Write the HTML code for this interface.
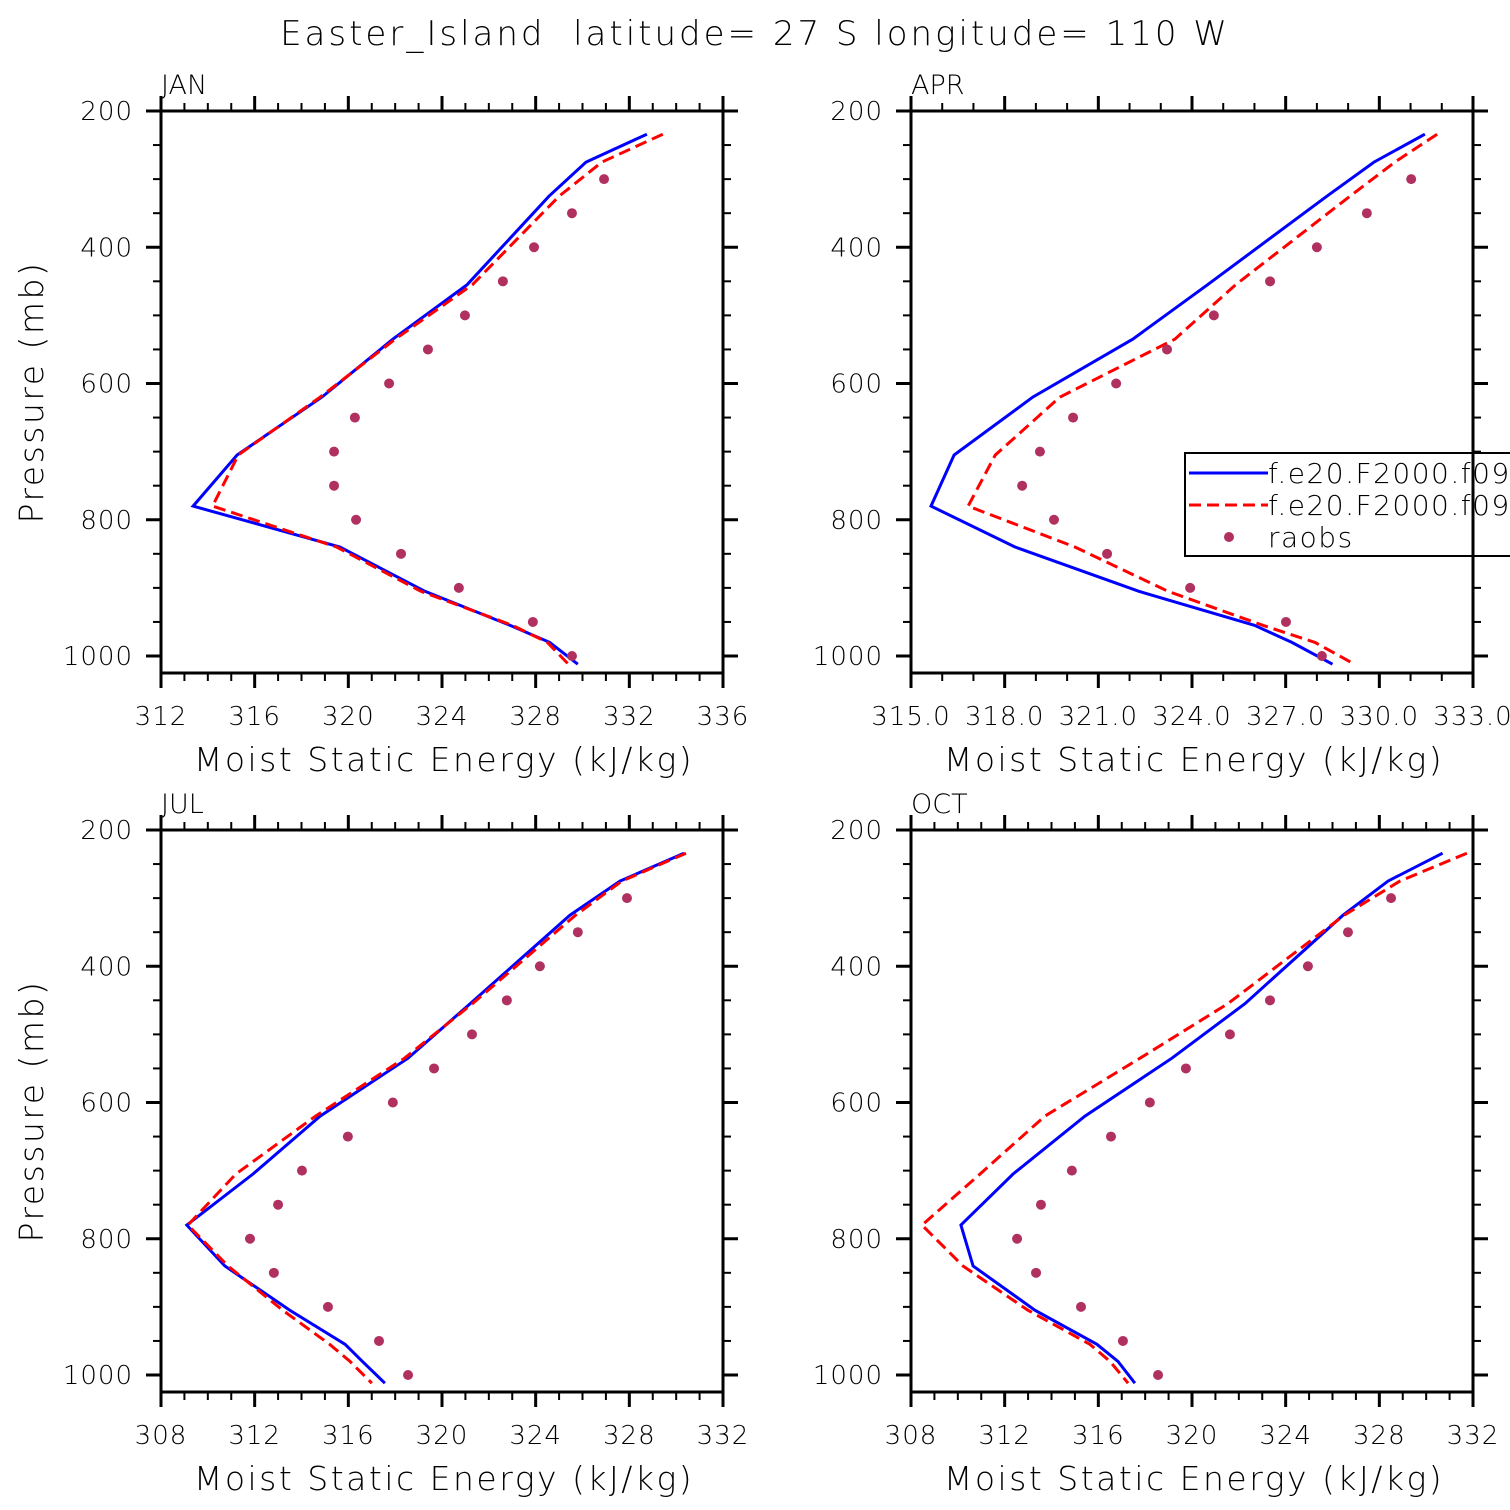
<!DOCTYPE html>
<html><head><meta charset="utf-8"><style>
html,body{margin:0;padding:0;background:#fff;}
svg{display:block;font-family:"DejaVu Sans","Liberation Sans",sans-serif;font-weight:300;}
</style></head><body>
<svg id="chart" width="1510" height="1510" viewBox="0 0 1510 1510">
<text x="755" y="45" font-size="34" text-anchor="middle" letter-spacing="3" xml:space="preserve" style="white-space:pre">Easter_Island  latitude= 27 S longitude= 110 W</text>
</svg>
<script>
const modelP = [234,275,325,455,535,620,705,780,840,905,955,980,1012];
const obsP = [300,350,400,450,500,550,600,650,700,750,800,850,900,950,1000];
const janBlue = [332.75,330.15,328.57,325.07,321.9,318.87,315.25,313.37,319.64,323.27,326.9,328.6,329.8];
const janRed = [333.43,330.83,329.0,325.3,322.0,318.8,315.3,314.2,319.5,323.1,327.0,328.5,329.4];
const janObs = [330.92,329.55,327.93,326.6,324.98,323.4,321.74,320.28,319.39,319.39,320.33,322.25,324.72,327.88,329.55];
const aprBlue = [331.46,329.83,328.32,324.5,322.1,318.9,316.38,315.64,318.33,322.3,326.0,327.2,328.5];
const aprRed = [331.85,330.5,329.06,325.4,323.45,319.77,317.7,316.83,320.25,323.23,326.27,327.94,329.2];
const aprObs = [331.02,329.6,328.0,326.5,324.7,323.2,321.57,320.19,319.13,318.56,319.58,321.28,323.94,327.01,328.16];
const julBlue = [330.33,327.6,325.46,321.2,318.55,314.8,311.93,309.1,310.73,313.5,315.86,316.6,317.56];
const julRed = [330.42,327.68,325.7,321.3,318.4,314.6,311.2,309.15,310.86,313.2,315.2,316.07,317.0];
const julObs = [327.9,325.8,324.18,322.77,321.28,319.66,317.9,315.98,314.02,313.0,311.8,312.82,315.13,317.31,318.55];
const octBlue = [330.7,328.37,326.45,322.26,319.14,315.43,312.36,310.13,310.65,313.3,315.94,316.84,317.56];
const octRed = [331.74,328.88,326.5,321.53,317.78,313.72,310.95,308.47,310.22,313.0,315.64,316.5,317.27];
const octObs = [328.5,326.66,324.95,323.33,321.62,319.74,318.2,316.54,314.87,313.55,312.53,313.34,315.26,317.05,318.55];
const yTicks = [200,400,600,800,1000];
const janX = [312,316,320,324,328,332,336];
const aprX = [315,318,321,324,327,330,333];
const julX = [308,312,316,320,324,328,332];
const octX = [308,312,316,320,324,328,332];

const NS='http://www.w3.org/2000/svg';
const svg=document.getElementById('chart');
function mk(tag,attrs,parent){const e=document.createElementNS(NS,tag);for(const k in attrs)e.setAttribute(k,attrs[k]);(parent||svg).appendChild(e);return e;}

function panel(key,title,x0,y0,xt,xmin,xmax,minorStep,dec,blue,red,obs,showY,legend){
  const W=562,H=562;
  const g=mk('g',{});
  
  
  const sx=v=>x0+(v-xmin)/(xmax-xmin)*W;
  const sy=p=>y0+(p-200)*0.68125;
  for(let v=xmin;v<=xmax+1e-6;v+=minorStep){
    const major=xt.some(t=>Math.abs(t-v)<1e-6);
    const L=major?15:8;
    const X=sx(v);
    mk('line',{x1:X,y1:y0,x2:X,y2:y0-L,stroke:'#000','stroke-width':major?3:2},g);
    mk('line',{x1:X,y1:y0+H,x2:X,y2:y0+H+L,stroke:'#000','stroke-width':major?3:2},g);
  }
  for(let p=200;p<=1000;p+=50){
    const major=p%200===0;const L=major?15:8;const Y=sy(p);
    mk('line',{x1:x0,y1:Y,x2:x0-L,y2:Y,stroke:'#000','stroke-width':major?3:2},g);
    mk('line',{x1:x0+W,y1:Y,x2:x0+W+L,y2:Y,stroke:'#000','stroke-width':major?3:2},g);
  }
  xt.forEach(t=>{const e=mk('text',{x:sx(t),y:y0+H+52,'font-size':26,'text-anchor':'middle','letter-spacing':'1'},g);e.textContent=t.toFixed(dec);
    
    });
  yTicks.forEach(t=>{const e=mk('text',{x:x0-28,y:sy(t)+9,'font-size':26,'text-anchor':'end','letter-spacing':'1'},g);e.textContent=t;
    
    });
  const tt=mk('text',{x:x0,y:y0-17,'font-size':27},g);tt.textContent=title;
  
  
  const xl=mk('text',{x:x0+W/2+2,y:y0+H+98,'font-size':33,'text-anchor':'middle','letter-spacing':'2.5'},g);xl.textContent='Moist Static Energy (kJ/kg)';
  
  
  if(showY){const yl=mk('text',{x:0,y:0,'font-size':33,'text-anchor':'middle','letter-spacing':'2.5',transform:`translate(${x0-118},${y0+H/2}) rotate(-90)`},g);yl.textContent='Pressure (mb)';
    
    }
  const clipId='clip-'+key;
  const cp=mk('clipPath',{id:clipId},g);mk('rect',{x:x0,y:y0,width:W,height:H},cp);
  const pts=arr=>arr.map((v,i)=>sx(v).toFixed(1)+','+sy(modelP[i]).toFixed(1)).join(' ');
  const bl=mk('polyline',{points:pts(blue),fill:'none',stroke:'#0000ff','stroke-width':3,'clip-path':`url(#${clipId})`},g);
  
  
  const rl=mk('polyline',{points:pts(red),fill:'none',stroke:'#ff0000','stroke-width':3,'stroke-dasharray':'12,6','clip-path':`url(#${clipId})`},g);
  
  
  obs.forEach((v,i)=>{const c=mk('circle',{cx:sx(v),cy:sy(obsP[i]),r:5,fill:'#b03060'},g);
    
    });
  mk('rect',{x:x0,y:y0,width:W,height:H,fill:'none',stroke:'#000','stroke-width':3},g);
  if(legend){
    const lg=mk('g',{},svg);
    
    
    mk('rect',{x:1185,y:453,width:340,height:103,fill:'#fff',stroke:'#000','stroke-width':2},lg);
    mk('line',{x1:1189,y1:473,x2:1268,y2:473,stroke:'#0000ff','stroke-width':3},lg);
    mk('line',{x1:1189,y1:505,x2:1268,y2:505,stroke:'#ff0000','stroke-width':3,'stroke-dasharray':'12,6'},lg);
    mk('circle',{cx:1229,cy:537,r:5,fill:'#b03060'},lg);
    [['f.e20.F2000.f09',483],['f.e20.F2000.f09',515],['raobs',547]].forEach(([t,y])=>{const e=mk('text',{x:1268,y:y,'font-size':28,'letter-spacing':'1.5'},lg);e.textContent=t;
      
      });
    mk('line',{x1:1473,y1:y0,x2:1473,y2:y0+H,stroke:'#000','stroke-width':3},lg);
  }
}
panel('jan','JAN',161,111,janX,312,336,1,0,janBlue,janRed,janObs,true,false);
panel('apr','APR',911,111,aprX,315,333,1,1,aprBlue,aprRed,aprObs,false,true);
panel('jul','JUL',161,830,julX,308,332,1,0,julBlue,julRed,julObs,true,false);
panel('oct','OCT',911,830,octX,308,332,1,0,octBlue,octRed,octObs,false,false);
</script>
</body></html>
